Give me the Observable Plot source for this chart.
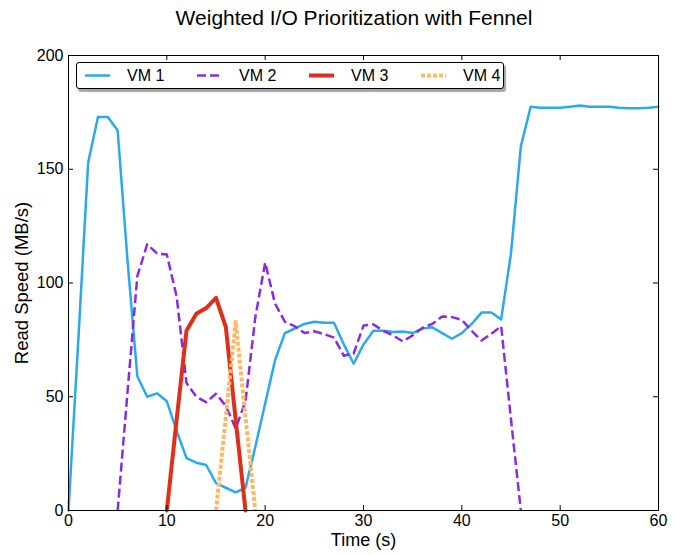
<!DOCTYPE html>
<html><head><meta charset="utf-8">
<script src="https://cdn.jsdelivr.net/npm/d3@7"></script>
<script src="https://cdn.jsdelivr.net/npm/@observablehq/plot@0.6"></script>
<style>
body{margin:0;background:#fff;font-family:"Liberation Sans",Arial,sans-serif;}
#wrap{position:relative;width:686px;height:554px;overflow:hidden;}
#title{position:absolute;top:6px;left:354px;transform:translateX(-50%);white-space:nowrap;font-size:21px;line-height:24px;color:#000;}
#chart{position:absolute;left:0;top:40px;}
#legend{position:absolute;left:76px;top:62px;width:428px;height:27px;box-sizing:border-box;border:1px solid #000;border-radius:3px;background:#fff;box-shadow:2px 3px 1px rgba(0,0,0,0.35);}
#legend .h{position:absolute;top:0;}
#legend .t{position:absolute;top:4px;font-size:16px;line-height:18px;color:#000;white-space:nowrap;}
</style></head>
<body><div id="wrap"><div id="title">Weighted I/O Prioritization with Fennel</div><div id="chart"></div><div id="legend"></div></div>
<script>
// ---- data ----
const seriesNames = ["VM 1", "VM 2", "VM 3", "VM 4"];
const seriesColors = ["#2ca8ef", "#8a2be2", "#df2f1b", "#fdb863"];
const xTicks = [0, 10, 20, 30, 40, 50, 60];
const yTicks = [0, 50, 100, 150, 200];

const vm1Start = 0;
const vm1 = [0, 75, 153, 173, 173, 167, 110, 59, 50, 51.5, 48, 35, 23, 21, 20, 12, 10, 8, 10, 28,
  47, 66, 78, 80, 82, 83, 82.5, 82.5, 73, 64.5, 73, 79, 79, 78.5, 78.7, 78, 80, 80.5, 78, 75.5,
  78, 82, 87, 87, 84, 113, 160, 177.5, 177, 177, 177, 177.5, 178, 177.5, 177.5, 177.5, 177, 176.8, 176.8, 177, 177.5];
const vm2Start = 5;
const vm2 = [0, 52, 103, 117, 113, 112.5, 94, 56, 50, 47.6, 51.3, 46, 36, 48, 85, 109, 91, 83, 81, 78,
  78.8, 77.5, 76, 68, 69, 81.3, 81.8, 79, 77, 74.3, 77, 80.3, 82, 85.3, 85, 83.8, 79, 74.7, 77.7, 81, 40, 0];
const vm3Start = 10;
const vm3 = [0, 40, 79, 86.5, 89, 93.5, 80.6, 40, 0];
const vm4Start = 15;
const vm4 = [0, 41, 83, 41, 0];

const seriesStarts = [vm1Start, vm2Start, vm3Start, vm4Start];
const seriesValues = [vm1, vm2, vm3, vm4];
const seriesWidths = [2.5, 2.5, 4, 4];
const seriesDash = [null, "9,4", null, "4,2"];

const tables = seriesValues.map((vals, s) => vals.map((v, i) => ({t: seriesStarts[s] + i, v})));

const W = 686, H = 514, mt = 15, mb = 44, ml = 68, mr = 28;
const innerH = H - mt - mb, innerW = W - ml - mr;
const tk = 5;

const lineMarks = tables.map((tab, s) => Plot.line(tab, {
  x: "t", y: "v", stroke: seriesColors[s], strokeWidth: seriesWidths[s],
  strokeDasharray: seriesDash[s] || undefined,
  strokeLinecap: seriesDash[s] ? "butt" : "round", strokeLinejoin: "round"
}));

const chart = Plot.plot({
  width: W, height: H,
  marginTop: mt, marginBottom: mb, marginLeft: ml, marginRight: mr,
  style: {fontFamily: "'Liberation Sans', Arial, sans-serif", fontSize: "16px", color: "#000", background: "#fff"},
  x: {domain: [0, 60]},
  y: {domain: [0, 200]},
  marks: [
    ...lineMarks,
    Plot.tickX(xTicks, {x: d => d, insetTop: innerH - tk, stroke: "#000"}),
    Plot.tickX(xTicks, {x: d => d, insetBottom: innerH - tk, stroke: "#000"}),
    Plot.tickY(yTicks, {y: d => d, insetRight: innerW - tk, stroke: "#000"}),
    Plot.tickY(yTicks, {y: d => d, insetLeft: innerW - tk, stroke: "#000"}),
    Plot.frame({stroke: "#000", strokeWidth: 1}),
    Plot.axisX({ticks: xTicks, tickSize: 0, tickPadding: 4, label: null, tickFormat: d => String(d), fontSize: 16}),
    Plot.axisY({ticks: yTicks, tickSize: 0, tickPadding: 5, label: null, tickFormat: d => String(d), fontSize: 16}),
    Plot.text(["Time (s)"], {text: d => d, frameAnchor: "bottom", dy: 35, lineAnchor: "bottom", textAnchor: "middle", fontSize: 18, fill: "#000"}),
    Plot.text(["Read Speed (MB/s)"], {text: d => d, frameAnchor: "left", dx: -46, rotate: -90, textAnchor: "middle", lineAnchor: "middle", fontSize: 18.5, fill: "#000"})
  ]
});
document.getElementById("chart").appendChild(chart);

// legend
const leg = document.getElementById("legend");
seriesNames.forEach((name, s) => {
  const hx = 8 + s * 112, tx = 50 + s * 112;
  const svg = d3.create("svg").attr("class", "h").attr("width", 30).attr("height", 25)
    .style("left", hx + "px");
  svg.append("line").attr("x1", 0).attr("x2", 25).attr("y1", 12.5).attr("y2", 12.5)
    .attr("stroke", seriesColors[s]).attr("stroke-width", seriesWidths[s])
    .attr("stroke-dasharray", seriesDash[s]).attr("stroke-linecap", "butt");
  leg.appendChild(svg.node());
  const t = document.createElement("div");
  t.className = "t"; t.style.left = tx + "px"; t.textContent = name;
  leg.appendChild(t);
});
</script>
</body></html>
